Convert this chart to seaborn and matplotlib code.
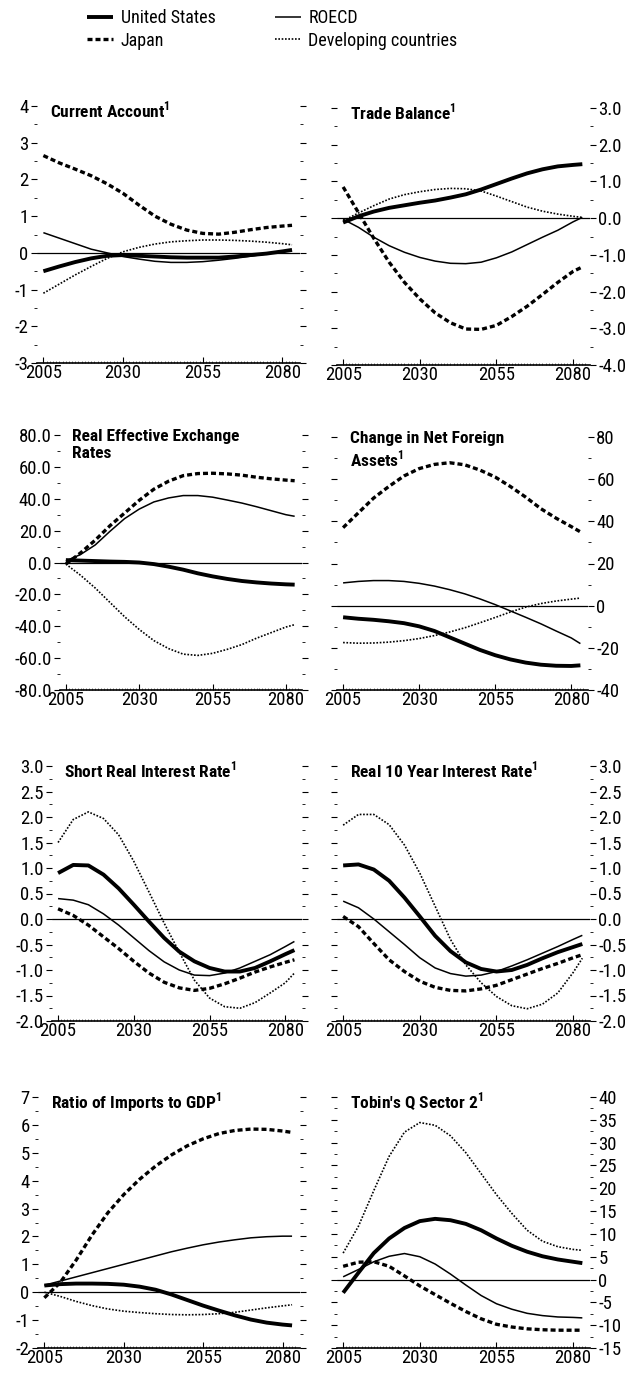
import numpy as np
import pandas as pd
import seaborn as sns
import matplotlib
matplotlib.use("Agg")
from matplotlib import pyplot as plt
from matplotlib import font_manager
from matplotlib.ticker import MultipleLocator, FixedLocator, FormatStrFormatter
from matplotlib.lines import Line2D

# ---- data ----
years = [2005, 2010, 2015, 2020, 2025, 2030, 2035, 2040, 2045, 2050,
         2055, 2060, 2065, 2070, 2075, 2080, 2083]
series_names = ["United States", "Japan", "ROECD", "Developing countries"]

# Current Account
ca_us = [-0.5, -0.37, -0.25, -0.15, -0.08, -0.06, -0.08, -0.1, -0.12, -0.13, -0.13, -0.13, -0.1, -0.06, -0.02, 0.04, 0.08]
ca_japan = [2.65, 2.45, 2.28, 2.1, 1.88, 1.62, 1.3, 1.0, 0.78, 0.62, 0.53, 0.51, 0.56, 0.63, 0.69, 0.73, 0.75]
ca_roecd = [0.55, 0.4, 0.25, 0.1, 0.0, -0.1, -0.17, -0.23, -0.26, -0.26, -0.24, -0.2, -0.15, -0.09, -0.03, 0.03, 0.06]
ca_dev = [-1.1, -0.85, -0.6, -0.37, -0.15, 0.03, 0.15, 0.24, 0.3, 0.33, 0.35, 0.35, 0.34, 0.32, 0.29, 0.25, 0.22]

# Trade Balance
tb_us = [-0.12, 0.05, 0.18, 0.28, 0.35, 0.42, 0.48, 0.56, 0.65, 0.78, 0.93, 1.08, 1.22, 1.33, 1.41, 1.45, 1.47]
tb_japan = [0.85, 0.15, -0.55, -1.2, -1.75, -2.2, -2.58, -2.85, -3.02, -3.03, -2.92, -2.68, -2.4, -2.08, -1.75, -1.45, -1.33]
tb_roecd = [-0.03, -0.25, -0.52, -0.75, -0.93, -1.07, -1.17, -1.23, -1.24, -1.2, -1.08, -0.92, -0.72, -0.52, -0.33, -0.1, 0.02]
tb_dev = [-0.07, 0.14, 0.34, 0.52, 0.64, 0.72, 0.78, 0.81, 0.8, 0.74, 0.6, 0.45, 0.3, 0.19, 0.11, 0.05, 0.02]

# Real Effective Exchange Rates
reer_us = [1.5, 1.2, 0.9, 0.6, 0.4, 0.0, -1.0, -2.6, -4.5, -6.8, -8.7, -10.3, -11.6, -12.5, -13.2, -13.7, -13.9]
reer_japan = [-1, 6, 14, 23, 31, 39, 46, 51, 54.5, 55.8, 56, 55.6, 54.8, 53.5, 52.5, 51.7, 51.3]
reer_roecd = [1, 5, 11, 19.5, 27.5, 33.5, 38, 40.5, 42, 42, 41, 39.2, 37.3, 35, 32.5, 30, 29]
reer_dev = [-1, -8, -16, -25, -34, -42, -49, -54, -57.5, -58.3, -57, -54.5, -51.5, -47.5, -44, -40.5, -39]

# Change in Net Foreign Assets
nfa_us = [-5.5, -6.2, -6.7, -7.4, -8.3, -9.8, -12, -15, -18, -21, -23.5, -25.5, -27, -28, -28.5, -28.6, -28.3]
nfa_japan = [37, 44, 51, 56.5, 61.5, 65, 67, 67.8, 66.8, 64.3, 61, 56.5, 51.5, 46, 41.5, 37.5, 35]
nfa_roecd = [10.8, 11.5, 11.9, 11.9, 11.5, 10.6, 9.3, 7.6, 5.6, 3.2, 0.5, -2.5, -5.5, -8.6, -12, -15.3, -18]
nfa_dev = [-17.5, -17.8, -17.7, -17.3, -16.6, -15.6, -14.2, -12.5, -10.5, -8.1, -5.6, -3.0, -0.7, 1.0, 2.2, 3.1, 3.6]

# Short Real Interest Rate
sr_us = [0.9, 1.06, 1.05, 0.87, 0.6, 0.28, -0.05, -0.37, -0.64, -0.83, -0.96, -1.03, -1.03, -0.96, -0.83, -0.69, -0.61]
sr_japan = [0.2, 0.07, -0.12, -0.35, -0.58, -0.83, -1.06, -1.24, -1.35, -1.4, -1.36, -1.27, -1.16, -1.04, -0.94, -0.85, -0.8]
sr_roecd = [0.4, 0.37, 0.28, 0.1, -0.12, -0.37, -0.62, -0.84, -1.0, -1.1, -1.11, -1.06, -0.96, -0.83, -0.7, -0.54, -0.44]
sr_dev = [1.5, 1.95, 2.1, 1.97, 1.65, 1.13, 0.53, -0.08, -0.65, -1.2, -1.55, -1.72, -1.75, -1.64, -1.45, -1.25, -1.06]

# Real 10 Year Interest Rate
lr_us = [1.05, 1.07, 0.97, 0.75, 0.42, 0.05, -0.33, -0.63, -0.85, -0.98, -1.03, -1.0, -0.9, -0.77, -0.65, -0.55, -0.49]
lr_japan = [0.05, -0.15, -0.48, -0.8, -1.03, -1.22, -1.34, -1.4, -1.41, -1.37, -1.3, -1.19, -1.08, -0.97, -0.87, -0.76, -0.7]
lr_roecd = [0.35, 0.22, 0.0, -0.25, -0.5, -0.76, -0.96, -1.07, -1.12, -1.1, -1.03, -0.92, -0.8, -0.67, -0.54, -0.4, -0.32]
lr_dev = [1.84, 2.05, 2.05, 1.85, 1.45, 0.9, 0.25, -0.4, -0.9, -1.25, -1.52, -1.7, -1.76, -1.67, -1.45, -1.05, -0.77]

# Ratio of Imports to GDP
im_us = [0.24, 0.29, 0.31, 0.31, 0.3, 0.27, 0.2, 0.09, -0.08, -0.28, -0.48, -0.66, -0.83, -0.98, -1.09, -1.16, -1.19]
im_japan = [-0.2, 0.35, 1.15, 2.05, 2.85, 3.5, 4.05, 4.52, 4.92, 5.25, 5.5, 5.69, 5.8, 5.85, 5.84, 5.78, 5.73]
im_roecd = [0.25, 0.4, 0.55, 0.7, 0.85, 1.0, 1.15, 1.3, 1.45, 1.58, 1.7, 1.8, 1.88, 1.95, 1.99, 2.01, 2.01]
im_dev = [0.0, -0.15, -0.33, -0.48, -0.6, -0.68, -0.73, -0.77, -0.8, -0.81, -0.8, -0.77, -0.72, -0.64, -0.56, -0.49, -0.45]

# Tobin's Q Sector 2
tq_us = [-2.9, 1.5, 5.8, 9.0, 11.3, 12.8, 13.3, 13.0, 12.2, 10.8, 9.0, 7.4, 6.1, 5.1, 4.4, 3.9, 3.6]
tq_japan = [2.9, 3.8, 3.9, 2.9, 0.8, -1.4, -3.3, -5.2, -7.0, -8.6, -9.8, -10.4, -10.8, -11.0, -11.1, -11.1, -11.1]
tq_roecd = [0.6, 2.2, 3.9, 5.1, 5.7, 5.0, 3.4, 1.2, -1.2, -3.5, -5.3, -6.5, -7.4, -7.9, -8.2, -8.3, -8.4]
tq_dev = [5.8, 11.7, 19.5, 27.0, 32.3, 34.4, 33.8, 31.5, 27.8, 23.2, 18.6, 14.5, 10.8, 8.4, 7.2, 6.6, 6.4]

x_major = [2005, 2030, 2055, 2080]

# ---- style ----
sns.set_style("white")

# look for a narrow / condensed sans face, the original uses one
family, stretch, fsize = "DejaVu Sans", "normal", 11
for key in ["liberationsansnarrow", "robotocondensed", "dejavusanscondensed",
            "notosans-condensed", "opensans-condensed", "opensanscondensed", "condensed", "narrow"]:
    hits = [f for f in font_manager.fontManager.ttflist
            if key in f.fname.lower().replace("_", "").replace(" ", "")
            and "mono" not in f.fname.lower() and "serif" not in f.fname.lower()
            and "cjk" not in f.fname.lower()]
    if hits:
        family, stretch, fsize = hits[0].name, hits[0].stretch, 13
        break
tick_size = fsize + 0.5
title_size = fsize - 0.5

plt.rcParams["font.family"] = [family, "DejaVu Sans"]
plt.rcParams["font.stretch"] = stretch
plt.rcParams["mathtext.fontset"] = "custom"
plt.rcParams["mathtext.rm"] = family
plt.rcParams["mathtext.bf"] = family + ":bold"
plt.rcParams["axes.unicode_minus"] = False
plt.rcParams["text.color"] = "black"
plt.rcParams["xtick.color"] = "black"
plt.rcParams["ytick.color"] = "black"

W, H = 627, 1376
fig = plt.figure(figsize=(W / 100, H / 100), dpi=100)

line_styles = {
    "United States": dict(lw=2.8, linestyle="-"),
    "Japan": dict(lw=2.4, linestyle=(0, (1.5, 0.9))),
    "ROECD": dict(lw=1.1, linestyle="-"),
    "Developing countries": dict(lw=1.2, linestyle=(0, (1, 1))),
}


def rect(x0, x1, ytop, ybot):
    return [x0 / W, 1 - ybot / H, (x1 - x0) / W, (ybot - ytop) / H]


sup = r"$^{\mathbf{1}}$"
panels = [
    # title, data, ylim, major, minor, fmt, side, rect
    ("Current Account" + sup, [ca_us, ca_japan, ca_roecd, ca_dev], (-3, 4), 1, 0.5, "%d", "left", rect(37, 300, 106, 363)),
    ("Trade Balance" + sup, [tb_us, tb_japan, tb_roecd, tb_dev], (-4, 3), 1, 0.5, "%.1f", "right", rect(337, 590, 108, 365)),
    ("Real Effective Exchange\nRates", [reer_us, reer_japan, reer_roecd, reer_dev], (-80, 80), 20, 10, "%.1f", "left", rect(60, 302, 435, 690)),
    ("Change in Net Foreign\nAssets" + sup, [nfa_us, nfa_japan, nfa_roecd, nfa_dev], (-40, 80), 20, 10, "%d", "right", rect(337, 588, 437, 690)),
    ("Short Real Interest Rate" + sup, [sr_us, sr_japan, sr_roecd, sr_dev], (-2, 3), 0.5, 0.25, "%.1f", "left", rect(52, 302, 766, 1021)),
    ("Real 10 Year Interest Rate" + sup, [lr_us, lr_japan, lr_roecd, lr_dev], (-2, 3), 0.5, 0.25, "%.1f", "right", rect(337, 590, 766, 1021)),
    ("Ratio of Imports to GDP" + sup, [im_us, im_japan, im_roecd, im_dev], (-2, 7), 1, 0.5, "%d", "left", rect(38, 300, 1097, 1348)),
    ("Tobin's Q Sector 2" + sup, [tq_us, tq_japan, tq_roecd, tq_dev], (-15, 40), 5, 2.5, "%d", "right", rect(337, 590, 1097, 1348)),
]

for title, data, ylim, major, minor, fmt, side, r in panels:
    ax = fig.add_axes(r)
    ax.axhline(0, color="black", lw=0.9, zorder=1)
    for name, vals in zip(series_names, data):
        sns.lineplot(x=years, y=vals, ax=ax, color="black", label=name,
                     solid_capstyle="butt", dash_capstyle="butt", **line_styles[name])
    if ax.get_legend() is not None:
        ax.get_legend().remove()
    ax.set_xlim(2003, 2085.5)
    ax.set_ylim(*ylim)
    ax.xaxis.set_major_locator(FixedLocator(x_major))
    ax.xaxis.set_minor_locator(FixedLocator(list(range(2005, 2085))))
    ax.yaxis.set_major_locator(MultipleLocator(major))
    ax.yaxis.set_minor_locator(MultipleLocator(minor))
    ax.yaxis.set_major_formatter(FormatStrFormatter(fmt))
    for s in ["top", "left", "right"]:
        ax.spines[s].set_visible(False)
    ax.spines["bottom"].set_linewidth(1.2)
    ax.spines["bottom"].set_color("black")
    ax.tick_params(axis="x", which="major", direction="in", length=4, width=0.8,
                   labelsize=tick_size, pad=1, bottom=True)
    ax.tick_params(axis="x", which="minor", direction="in", length=1.8, width=0.4, bottom=True)
    ax.tick_params(axis="y", which="major", direction="out", length=4, width=0.8,
                   left=True, right=True, labelsize=tick_size, pad=2,
                   labelleft=(side == "left"), labelright=(side == "right"))
    ax.tick_params(axis="y", which="minor", direction="out", length=2, width=0.6,
                   left=True, right=True)
    ax.set_xlabel("")
    ax.set_ylabel("")
    ax.text(0.05, 1.025, title, transform=ax.transAxes, ha="left", va="top",
            fontsize=title_size, fontweight="bold", linespacing=1.2)

# legend at the top
handles = [Line2D([0], [0], color="black", solid_capstyle="butt", dash_capstyle="butt",
                  **line_styles[n]) for n in series_names]
fig.legend(handles, series_names, ncol=2, loc="upper left",
           bbox_to_anchor=(80 / W, 1 - 2 / H), frameon=False, fontsize=fsize,
           handlelength=1.45, handletextpad=0.4, columnspacing=3.3,
           labelspacing=0.25, borderaxespad=0)

fig.savefig("out.png", dpi=100)
